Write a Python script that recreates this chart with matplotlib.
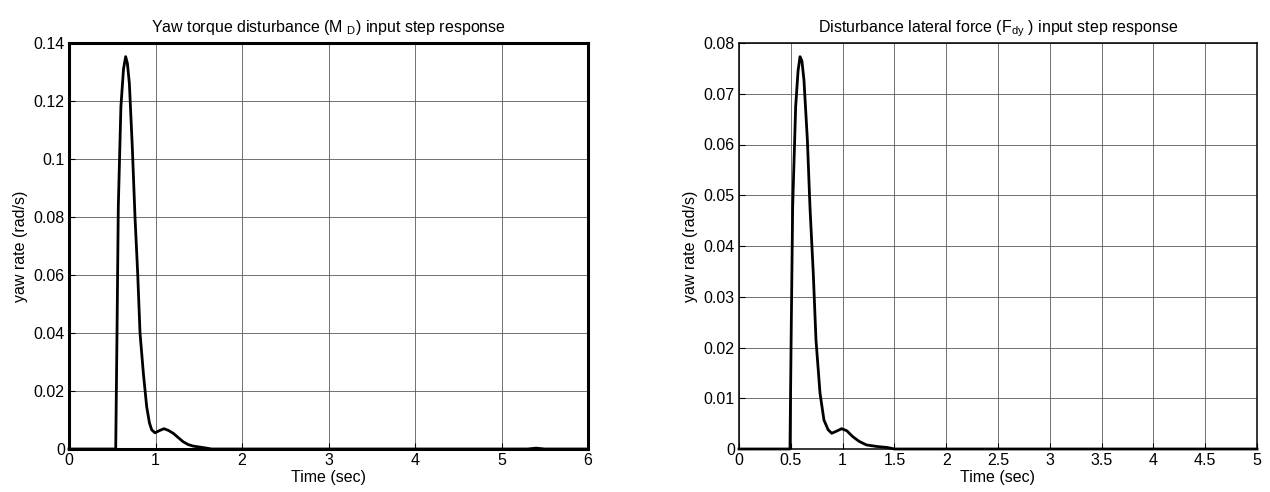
import numpy as np
import matplotlib.pyplot as plt

plt.rcParams["font.family"] = ["Liberation Sans", "DejaVu Sans"]
plt.rcParams["mathtext.fontset"] = "custom"
plt.rcParams["mathtext.rm"] = "Liberation Sans"
plt.rcParams["mathtext.it"] = "Liberation Sans"

# yaw torque disturbance response
t_md = [0.0, 0.54, 0.555, 0.57, 0.60, 0.63, 0.655, 0.675, 0.698, 0.732, 0.763, 0.794,
        0.821, 0.86, 0.898, 0.93, 0.956, 0.994, 1.05, 1.098, 1.15, 1.206, 1.26, 1.32,
        1.38, 1.437, 1.57, 1.65, 5.30, 5.40, 5.50, 6.0]
r_md = [0.0, 0.0, 0.040, 0.0836, 0.118, 0.131, 0.1353, 0.133, 0.126, 0.104, 0.080, 0.0606,
        0.040, 0.026, 0.0146, 0.009, 0.0066, 0.0056, 0.0064, 0.0070, 0.0064, 0.0054, 0.004, 0.0025,
        0.0015, 0.001, 0.0004, 0.0, 0.0, 0.0003, 0.0, 0.0]

# lateral force disturbance response
t_fdy = [0.0, 0.492, 0.505, 0.518, 0.547, 0.57, 0.589, 0.607, 0.627, 0.66, 0.685, 0.717,
         0.743, 0.782, 0.82, 0.86, 0.895, 0.94, 0.991, 1.04, 1.10, 1.16, 1.23, 1.33, 1.43,
         1.5, 5.0]
r_fdy = [0.0, 0.0, 0.025, 0.0477, 0.0675, 0.0745, 0.0773, 0.0765, 0.0727, 0.0609, 0.0477,
         0.0346, 0.0215, 0.011, 0.0057, 0.0038, 0.0031, 0.0035, 0.0040, 0.0036, 0.0024, 0.0015,
         0.0008, 0.0005, 0.0003, 0.0, 0.0]

fig = plt.figure(figsize=(12.7, 4.92), dpi=100)
ax1 = fig.add_axes([69 / 1270, 43 / 492, 519 / 1270, 406 / 492])
ax2 = fig.add_axes([739 / 1270, 43 / 492, 518 / 1270, 406 / 492])

panels = [
    (ax1, t_md, r_md, 6, 0.14, np.arange(0, 6.01, 1), np.arange(0, 0.1401, 0.02),
     ["0", "1", "2", "3", "4", "5", "6"],
     ["0", "0.02", "0.04", "0.06", "0.08", "0.1", "0.12", "0.14"],
     r"Yaw torque disturbance (M $_{D}$) input step response", 2.2),
    (ax2, t_fdy, r_fdy, 5, 0.08, np.arange(0, 5.01, 0.5), np.arange(0, 0.0801, 0.01),
     ["0", "0.5", "1", "1.5", "2", "2.5", "3", "3.5", "4", "4.5", "5"],
     ["0", "0.01", "0.02", "0.03", "0.04", "0.05", "0.06", "0.07", "0.08"],
     r"Disturbance lateral force (F$_{dy}$ ) input step response", 1.1),
]

for ax, t, r, xmax, ymax, xt, yt, xl, yl, title, frame_lw in panels:
    ax.plot(t, r, color="black", linewidth=2.0, clip_on=False, zorder=3)
    ax.set_xlim(0, xmax)
    ax.set_ylim(0, ymax)
    ax.set_xticks(xt)
    ax.set_xticklabels(xl)
    ax.set_yticks(yt)
    ax.set_yticklabels(yl)
    ax.grid(True, color="0.35", linewidth=0.6)
    ax.tick_params(direction="in", length=4, labelsize=11.5, pad=3, color="black")
    for s in ax.spines.values():
        s.set_linewidth(frame_lw)
    ax.set_xlabel("Time (sec)", fontsize=11.5, labelpad=1)
    ax.set_ylabel("yaw rate (rad/s)", fontsize=11.5, labelpad=4)
    ax.set_title(title, fontsize=11.5, pad=8)

fig.savefig("out.png", dpi=100)
